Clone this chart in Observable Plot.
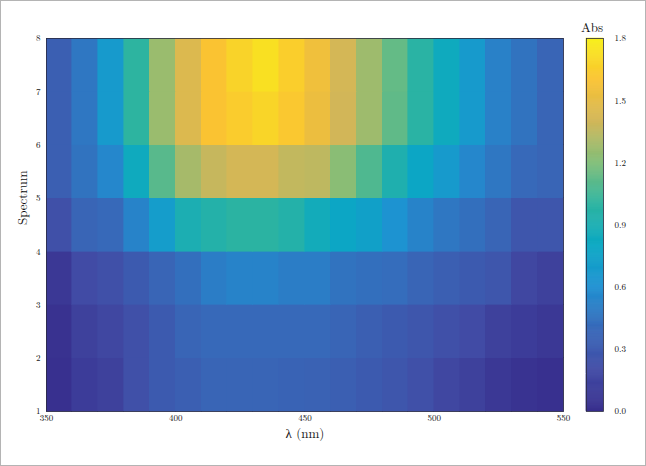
<!DOCTYPE html>
<html><head><meta charset="utf-8">
<script src="https://cdn.jsdelivr.net/npm/d3@7"></script>
<script src="https://cdn.jsdelivr.net/npm/@observablehq/plot@0.6"></script>
<style>
html,body{margin:0;padding:0;background:#fff;}
#chart{position:relative;width:646px;height:466px;overflow:hidden;background:#fff;}
#chart svg{position:absolute;top:0;left:0;}
#border{position:absolute;left:0;top:0;width:646px;height:466px;box-sizing:border-box;border:1px solid #b4b4b4;pointer-events:none;}
</style></head><body><div id="chart"><div id="border"></div></div>
<script>
// Wavelength bin edges (nm) and spectrum edges
const wavelengths = [350,360,370,380,390,400,410,420,430,440,450,460,470,480,490,500,510,520,530,540,550];
const spectra = [1,2,3,4,5,6,7,8];
const xTicks = [350,400,450,500,550];
const yTicks = [1,2,3,4,5,6,7,8];
const cbTicks = [0,0.3,0.6,0.9,1.2,1.5,1.8];

// Absorbance per cell, one array per spectrum band (bottom to top)
const abs1 = [0.02,0.10,0.13,0.23,0.30,0.33,0.37,0.37,0.37,0.36,0.35,0.33,0.30,0.27,0.23,0.17,0.13,0.07,0.04,0.02];
const abs2 = [0.03,0.13,0.17,0.23,0.30,0.37,0.40,0.40,0.40,0.40,0.40,0.37,0.33,0.30,0.27,0.23,0.20,0.13,0.10,0.07];
const abs3 = [0.07,0.20,0.23,0.30,0.37,0.43,0.50,0.53,0.53,0.50,0.50,0.45,0.43,0.42,0.37,0.33,0.30,0.27,0.17,0.13];
const abs4 = [0.23,0.37,0.40,0.53,0.70,0.90,0.95,0.99,0.99,0.95,0.85,0.78,0.73,0.62,0.53,0.47,0.43,0.37,0.27,0.27];
const abs5 = [0.33,0.45,0.55,0.83,1.10,1.29,1.37,1.41,1.41,1.36,1.35,1.22,1.08,0.92,0.78,0.68,0.55,0.47,0.40,0.37];
const abs6 = [0.33,0.47,0.68,1.00,1.26,1.45,1.60,1.64,1.68,1.62,1.53,1.40,1.27,1.12,0.98,0.83,0.68,0.52,0.45,0.37];
const abs7 = [0.33,0.47,0.68,1.00,1.26,1.45,1.60,1.67,1.73,1.65,1.55,1.41,1.27,1.13,0.98,0.83,0.68,0.52,0.45,0.37];
const absRows = [abs1,abs2,abs3,abs4,abs5,abs6,abs7];

// Colormap (parula-like) stops
const cmapStops = [0,0.2,0.4,0.6,0.8,1.0,1.2,1.4,1.6,1.8];
const cmapColors = ["#372d8c","#414ba5","#3769b9","#1f91d2","#0aa8c3","#2db4a0","#82be78","#d2b658","#fac332","#f8f019"];

const cells = [];
absRows.forEach((row, r) => row.forEach((v, c) => cells.push({
  x1: wavelengths[c], x2: wavelengths[c+1], y1: spectra[r], y2: spectra[r+1], v
})));

const font = "'Latin Modern Roman','CMU Serif','Liberation Serif',serif";
const colorOpts = {type:"linear", domain: cmapStops, range: cmapColors, interpolate: "rgb"};

const main = Plot.plot({
  width: 646, height: 466,
  marginLeft: 46, marginRight: 83, marginTop: 38, marginBottom: 55,
  x: {domain: [350, 550]},
  y: {domain: [1, 8]},
  color: colorOpts,
  style: {fontFamily: font, fontSize: "9px", background: "transparent", color: "#111"},
  marks: [
    Plot.rect(cells, {x1: "x1", x2: "x2", y1: "y1", y2: "y2", fill: "v", stroke: "v", strokeWidth: 0.6, inset: 0, shapeRendering: "crispEdges"}),
    Plot.frame({stroke: "#2b2b40", strokeWidth: 0.8}),
    Plot.axisX({ticks: xTicks, tickFormat: d3.format("d"), tickSize: 0, tickPadding: 3, label: null}),
    Plot.axisY({ticks: yTicks, tickFormat: d3.format("d"), tickSize: 0, tickPadding: 6, label: null}),
    Plot.text(["λ (nm)"], {frameAnchor: "bottom", dy: 26, fontSize: 13, fontFamily: font}),
    Plot.text(["Spectrum"], {frameAnchor: "left", dx: -24, rotate: -90, fontSize: 13, fontFamily: font})
  ]
});

const cbVals = d3.range(0, 1.8, 0.005);
const bar = Plot.plot({
  width: 646, height: 466,
  marginLeft: 586, marginRight: 43, marginTop: 38, marginBottom: 55,
  x: {domain: [0, 1], axis: null},
  y: {domain: [0, 1.8], axis: null},
  color: colorOpts,
  style: {fontFamily: font, fontSize: "9px", background: "transparent", color: "#111"},
  marks: [
    Plot.rect(cbVals, {x1: 0, x2: 1, y1: d => d, y2: d => Math.min(1.8, d + 0.005), fill: d => d, stroke: d => d, strokeWidth: 0.6, inset: 0}),
    Plot.frame({stroke: "#2b2b40", strokeWidth: 0.8}),
    Plot.axisY({anchor: "right", ticks: cbTicks, tickFormat: d3.format(".1f"), tickSize: 0, tickPadding: 11, label: null}),
    Plot.text(["Abs"], {frameAnchor: "top", dy: -16, dx: -3, fontSize: 13, fontFamily: font})
  ]
});

const chart = document.getElementById("chart");
chart.insertBefore(bar, chart.firstChild);
chart.insertBefore(main, chart.firstChild);
</script>
</body></html>
